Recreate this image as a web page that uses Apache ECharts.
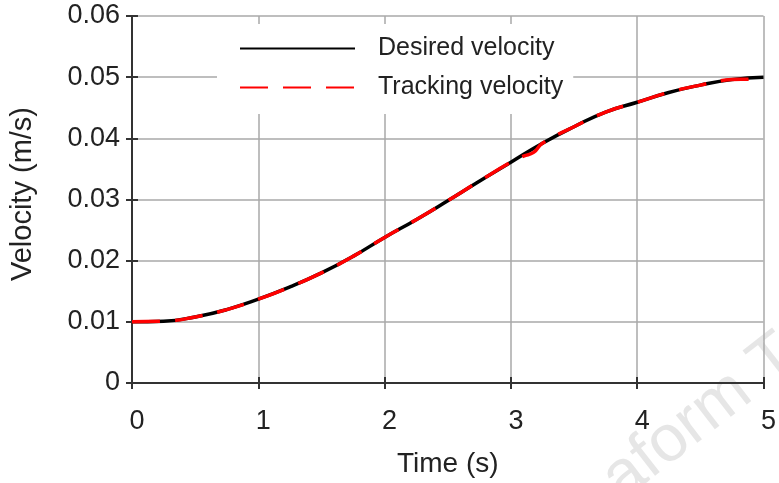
<!DOCTYPE html>
<html>
<head>
<meta charset="utf-8">
<script src="https://cdn.jsdelivr.net/npm/echarts@6/dist/echarts.min.js"></script>
<style>
html,body{margin:0;padding:0;background:#fff;}
#chart{width:779px;height:483px;}
</style>
</head>
<body>
<div id="chart"></div>
<script>
const timeValues = [0, 0.25, 0.5, 0.75, 1, 1.25, 1.5, 1.75, 2, 2.25, 2.5, 2.75, 3, 3.25, 3.5, 3.75, 4, 4.25, 4.5, 4.75, 5];
const desiredVelocity = [0.0100, 0.0101, 0.0108, 0.0120, 0.0137, 0.0157, 0.0180, 0.0207, 0.0238, 0.0267, 0.0298, 0.0330, 0.0361, 0.0392, 0.0419, 0.0443, 0.0459, 0.0475, 0.0487, 0.0496, 0.0500];
const trackingTime = [0, 0.25, 0.5, 0.75, 1, 1.25, 1.5, 1.75, 2, 2.25, 2.5, 2.75, 3, 3.1, 3.18, 3.25, 3.5, 3.75, 4, 4.25, 4.5, 4.75, 4.9, 5];
const trackingVelocity = [0.0100, 0.0101, 0.0108, 0.0120, 0.0137, 0.0157, 0.0180, 0.0207, 0.0238, 0.0267, 0.0298, 0.0330, 0.0361, 0.0371, 0.0377, 0.0392, 0.0419, 0.0443, 0.0459, 0.0475, 0.0487, 0.0496, 0.0497, 0.0500];
const xTicks = [0, 1, 2, 3, 4, 5];
const yTicks = [0, 0.01, 0.02, 0.03, 0.04, 0.05, 0.06];

const FONT = 'Liberation Sans, Arial, sans-serif';
const TXT = '#222';
const chart = echarts.init(document.getElementById('chart'), null, {renderer: 'canvas'});

const axisLineStyle = {show: true, lineStyle: {color: '#333', width: 2}};
const tickStyle = {show: true, inside: true, length: 6, lineStyle: {color: '#333', width: 2}};

chart.setOption({
  animation: false,
  backgroundColor: '#fff',
  grid: {left: 132, right: 14, top: 16, bottom: 97, containLabel: false},
  legend: {
    orient: 'vertical',
    left: 217, top: 24,
    padding: [12, 10, 14, 22],
    backgroundColor: '#fff',
    itemWidth: 115, itemHeight: 20,
    itemGap: 14,
    itemStyle: {opacity: 0},
    textStyle: {fontFamily: FONT, fontSize: 25, color: TXT, padding: [0, 0, 0, 18]},
    data: ['Desired velocity', 'Tracking velocity'],
    z: 10
  },
  xAxis: [{
    type: 'value', min: xTicks[0], max: xTicks[xTicks.length - 1], interval: 1,
    position: 'bottom',
    name: 'Time (s)', nameLocation: 'middle', nameGap: 67,
    nameTextStyle: {fontFamily: FONT, fontSize: 28, color: TXT},
    axisLine: axisLineStyle, axisTick: tickStyle,
    axisLabel: {fontFamily: FONT, fontSize: 27, color: TXT, margin: 25, padding: [0, 0, 0, 10]},
    splitLine: {show: true, lineStyle: {color: '#a8a8a8', width: 1.5}}
  }, {
    type: 'value', min: xTicks[0], max: xTicks[xTicks.length - 1], interval: 1,
    position: 'top',
    axisLine: axisLineStyle, axisTick: tickStyle,
    axisLabel: {show: false}, splitLine: {show: false}
  }],
  yAxis: [{
    type: 'value', min: yTicks[0], max: yTicks[yTicks.length - 1], interval: 0.01,
    position: 'left',
    name: 'Velocity (m/s)', nameLocation: 'middle', nameGap: 95,
    nameTextStyle: {fontFamily: FONT, fontSize: 29, color: TXT, padding: [0, 0, 0, 11]},
    axisLine: axisLineStyle, axisTick: tickStyle,
    axisLabel: {fontFamily: FONT, fontSize: 27, color: TXT, margin: 12, padding: [5, 0, 0, 0],
      formatter: v => v === 0 ? '0' : v.toFixed(2)},
    splitLine: {show: true, lineStyle: {color: '#a8a8a8', width: 1.5}}
  }, {
    type: 'value', min: yTicks[0], max: yTicks[yTicks.length - 1], interval: 0.01,
    position: 'right',
    axisLine: axisLineStyle, axisTick: tickStyle,
    axisLabel: {show: false}, splitLine: {show: false}
  }],
  series: [{
    name: 'Desired velocity', type: 'line', smooth: true, symbol: 'none',
    data: timeValues.map((t, i) => [t, desiredVelocity[i]]),
    lineStyle: {color: '#000', width: 3.5},
    itemStyle: {color: '#000'},
    z: 3
  }, {
    name: 'Tracking velocity', type: 'line', smooth: true, symbol: 'none',
    data: trackingTime.map((t, i) => [t, trackingVelocity[i]]),
    lineStyle: {color: '#ff0000', width: 3.5, type: [28, 15]},
    itemStyle: {color: '#ff0000'},
    z: 4
  }],
  graphic: [{
    type: 'text', silent: true, z: -1,
    left: 590, top: 322, rotation: 0.66,
    style: {text: 'aform T', fontFamily: FONT, fontSize: 66, fill: 'rgba(200,200,200,0.45)'}
  }]
});
</script>
</body>
</html>
